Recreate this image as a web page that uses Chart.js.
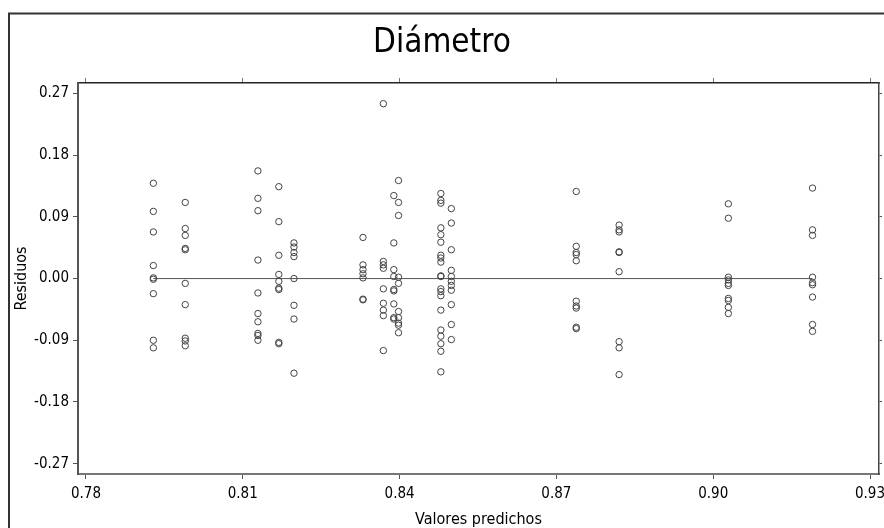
<!DOCTYPE html>
<html>
<head>
<meta charset="utf-8">
<script src="https://cdn.jsdelivr.net/npm/chart.js@4/dist/chart.umd.min.js"></script>
<style>
  html, body { margin: 0; padding: 0; background: #fff; }
  #wrap { width: 884px; height: 528px; position: relative; }
</style>
</head>
<body>
<div id="wrap"><canvas id="chart"></canvas></div>
<script>
// Residuos vs valores predichos (Diámetro)
const predichos = [0.7929, 0.7990, 0.8129, 0.8169, 0.8198, 0.8330, 0.8369, 0.8389,
                   0.8398, 0.8479, 0.8499, 0.8738, 0.8820, 0.9029, 0.9190];

// residuos for each predicted value, same order as predichos
const residuos = [
    [0.139, 0.098, 0.068, 0.019, 0.001, -0.001, -0.022, -0.090, -0.101],
    [0.111, 0.073, 0.063, 0.044, 0.042, -0.007, -0.038, -0.087, -0.091, -0.098],
    [0.157, 0.117, 0.099, 0.027, -0.021, -0.051, -0.063, -0.080, -0.083, -0.090],
    [0.134, 0.083, 0.034, 0.006, -0.004, -0.014, -0.016, -0.093, -0.095],
    [0.052, 0.046, 0.038, 0.032, 0.000, -0.039, -0.059, -0.138],
    [0.060, 0.020, 0.013, 0.007, 0.001, -0.030, -0.031],
    [0.255, 0.025, 0.020, 0.015, -0.015, -0.036, -0.046, -0.054, -0.105],
    [0.121, 0.052, 0.013, 0.003, -0.016, -0.018, -0.037, -0.057, -0.059],
    [0.143, 0.111, 0.092, 0.002, -0.007, -0.048, -0.057, -0.065, -0.068, -0.079],
    [0.124, 0.114, 0.110, 0.074, 0.064, 0.053, 0.034, 0.030, 0.024, 0.004, 0.003,
     -0.015, -0.019, -0.025, -0.046, -0.075, -0.084, -0.095, -0.106, -0.136],
    [0.102, 0.081, 0.042, 0.012, 0.003, -0.004, -0.010, -0.017, -0.038, -0.067, -0.089],
    [0.127, 0.047, 0.038, 0.035, 0.026, -0.033, -0.040, -0.043, -0.071, -0.073],
    [0.078, 0.071, 0.068, 0.039, 0.038, 0.010, -0.092, -0.101, -0.140],
    [0.109, 0.088, 0.002, -0.002, -0.007, -0.010, -0.029, -0.032, -0.042, -0.051],
    [0.132, 0.071, 0.063, 0.002, -0.006, -0.009, -0.027, -0.067, -0.077]
];

const xTicks = [0.78, 0.81, 0.84, 0.87, 0.90, 0.93];
const yTicks = [-0.27, -0.18, -0.09, 0.00, 0.09, 0.18, 0.27];

const FONT = '"Liberation Sans Narrow", "Arial Narrow", "DejaVu Sans Condensed", sans-serif';

// build scatter points
const puntos = [];
predichos.forEach((x, i) => {
    residuos[i].forEach(r => puntos.push({ x: x, y: r }));
});
const xMin = Math.min(...predichos);
const xMax = Math.max(...predichos);

// outer frame around the figure
const framePlugin = {
    id: 'frame',
    beforeDraw(chart) {
        const ctx = chart.ctx;
        ctx.save();
        ctx.fillStyle = '#fff';
        ctx.fillRect(0, 0, chart.width, chart.height);
        ctx.strokeStyle = '#333';
        ctx.lineWidth = 2;
        ctx.beginPath();
        ctx.moveTo(9, chart.height + 2);
        ctx.lineTo(9, 13.5);
        ctx.lineTo(chart.width + 2, 13.5);
        ctx.stroke();
        ctx.restore();
    }
};

// fixed box sizes, no extra label padding
const fixSize = (prop, val) => (scale) => {
    scale[prop] = val;
    scale.paddingLeft = 0;
    scale.paddingRight = 0;
    scale.paddingTop = 0;
    scale.paddingBottom = 0;
};

const tickFont = { family: FONT, size: 15, lineHeight: 1 };

new Chart(document.getElementById('chart'), {
    type: 'scatter',
    data: {
        datasets: [
            {
                type: 'line',
                data: [{ x: xMin, y: 0 }, { x: xMax, y: 0 }],
                borderColor: '#555',
                borderWidth: 1,
                pointRadius: 0,
                order: 2
            },
            {
                data: puntos,
                pointStyle: 'circle',
                pointRadius: 3.2,
                backgroundColor: 'rgba(0,0,0,0)',
                borderColor: '#444',
                borderWidth: 1,
                order: 1
            }
        ]
    },
    options: {
        responsive: true,
        maintainAspectRatio: false,
        animation: false,
        layout: { padding: 0 },
        plugins: {
            legend: { display: false },
            tooltip: { enabled: false },
            title: {
                display: true,
                text: 'Diámetro',
                color: '#000',
                font: { family: FONT, size: 33, weight: 'normal', lineHeight: 1.2 },
                padding: { top: 24, bottom: 10 }
            }
        },
        scales: {
            x: {
                type: 'linear',
                position: 'bottom',
                min: 0.77848,
                max: 0.93172,
                afterBuildTicks: (s) => { s.ticks = xTicks.map(v => ({ value: v })); },
                afterFit: fixSize('height', 54),
                ticks: {
                    color: '#000',
                    font: tickFont,
                    padding: 8,
                    maxRotation: 0,
                    autoSkip: false,
                    callback: (v) => v.toFixed(2)
                },
                grid: { drawOnChartArea: false, tickLength: 5, color: '#555', tickColor: '#555' },
                border: { color: '#777', width: 2 },
                title: {
                    display: true,
                    text: 'Valores predichos',
                    color: '#000',
                    font: { family: FONT, size: 16, lineHeight: 1 },
                    padding: 0
                }
            },
            xTop: {
                type: 'linear',
                position: 'top',
                min: 0.77848,
                max: 0.93172,
                afterBuildTicks: (s) => { s.ticks = xTicks.map(v => ({ value: v })); },
                afterFit: fixSize('height', 9.4),
                ticks: { display: false },
                grid: { drawOnChartArea: false, tickLength: 5, color: '#777', tickColor: '#777' },
                border: { color: '#222', width: 1.5 }
            },
            y: {
                type: 'linear',
                position: 'left',
                min: -0.285,
                max: 0.2852,
                afterBuildTicks: (s) => { s.ticks = yTicks.map(v => ({ value: v })); },
                afterFit: fixSize('width', 78),
                ticks: {
                    color: '#000',
                    font: tickFont,
                    padding: 4,
                    autoSkip: false,
                    callback: (v) => v.toFixed(2)
                },
                grid: { drawOnChartArea: false, tickLength: 5, color: '#555', tickColor: '#555' },
                border: { color: '#555', width: 2 },
                title: {
                    display: true,
                    text: 'Residuos',
                    color: '#000',
                    font: { family: FONT, size: 16, lineHeight: 1 },
                    padding: { top: 14, bottom: 0 }
                }
            },
            yRight: {
                type: 'linear',
                position: 'right',
                min: -0.285,
                max: 0.2852,
                afterBuildTicks: (s) => { s.ticks = yTicks.map(v => ({ value: v })); },
                afterFit: fixSize('width', 2.3),
                ticks: { display: false },
                grid: { drawOnChartArea: false, tickLength: 3, color: '#555', tickColor: '#555' },
                border: { color: '#444', width: 1.5 }
            }
        }
    },
    plugins: [framePlugin]
});
</script>
</body>
</html>
